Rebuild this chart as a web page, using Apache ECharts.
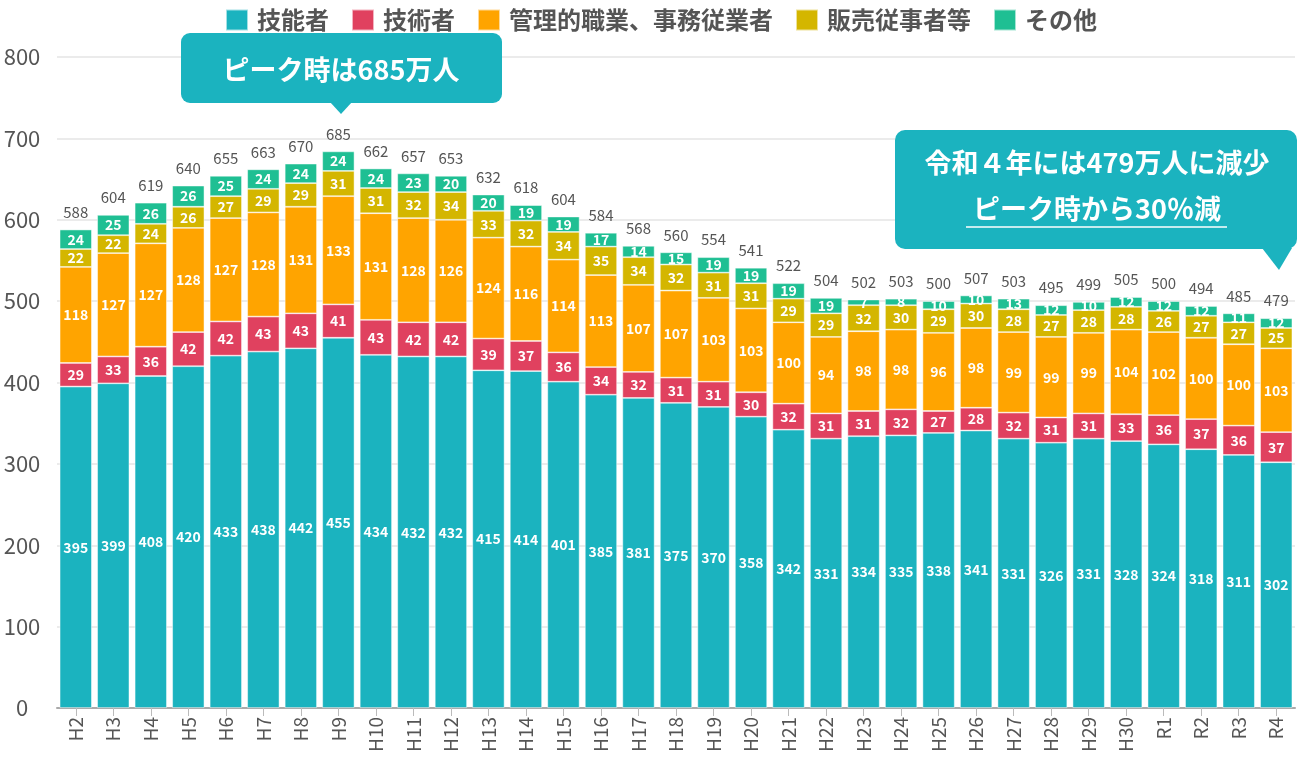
<!DOCTYPE html>
<html>
<head>
<meta charset="utf-8">
<script src="https://cdn.jsdelivr.net/npm/echarts@6/dist/echarts.min.js"></script>
<style>
html,body{margin:0;padding:0;background:#fff;}
#c{width:1301px;height:763px;}
</style>
</head>
<body>
<div id="c"></div>
<script>
const categories = ['H2','H3','H4','H5','H6','H7','H8','H9','H10','H11','H12','H13','H14','H15','H16','H17','H18','H19','H20','H21','H22','H23','H24','H25','H26','H27','H28','H29','H30','R1','R2','R3','R4'];
const ginosha = [395,399,408,420,433,438,442,455,434,432,432,415,414,401,385,381,375,370,358,342,331,334,335,338,341,331,326,331,328,324,318,311,302];
const gijutsusha = [29,33,36,42,42,43,43,41,43,42,42,39,37,36,34,32,31,31,30,32,31,31,32,27,28,32,31,31,33,36,37,36,37];
const kanri = [118,127,127,128,127,128,131,133,131,128,126,124,116,114,113,107,107,103,103,100,94,98,98,96,98,99,99,99,104,102,100,100,103];
const hanbai = [22,22,24,26,27,29,29,31,31,32,34,33,32,34,35,34,32,31,31,29,29,32,30,29,30,28,27,28,28,26,27,27,25];
const sonota = [24,25,26,26,25,24,24,24,24,23,20,20,19,19,17,14,15,19,19,19,19,7,8,10,10,13,12,10,12,12,12,11,12];
const totals = [588,604,619,640,655,663,670,685,662,657,653,632,618,604,584,568,560,554,541,522,504,502,503,500,507,503,495,499,505,500,494,485,479];
const seriesNames = ['技能者','技術者','管理的職業、事務従業者','販売従事者等','その他'];
const colors = ['#1bb3bf','#e0415f','#ffa400','#d4b600','#1fbf93'];
const yTicks = [0,100,200,300,400,500,600,700,800];

const FONT = '"Noto Sans CJK JP", "Noto Sans", sans-serif';
const chart = echarts.init(document.getElementById('c'));
const dataSets = [ginosha, gijutsusha, kanri, hanbai, sonota];
const series = dataSets.map((d, i) => ({
  name: seriesNames[i],
  type: 'bar',
  stack: 'total',
  barWidth: '86%',
  data: d,
  itemStyle: { color: colors[i], borderColor: 'rgba(255,255,255,0.6)', borderWidth: 0.8 },
  label: {
    show: true, position: 'inside', color: '#fff', fontSize: 14, fontWeight: 'bold',
    fontFamily: FONT
  }
}));
series.push({
  name: '合計',
  type: 'bar',
  stack: 'total',
  barWidth: '86%',
  data: totals.map(() => 0),
  itemStyle: { color: 'transparent' },
  label: {
    show: true, position: 'top', distance: 10, color: '#555', fontSize: 15,
    fontFamily: FONT,
    formatter: p => totals[p.dataIndex]
  },
  silent: true
});

const option = {
  animation: false,
  color: colors,
  legend: {
    data: seriesNames,
    top: 3,
    left: 220,
    itemWidth: 22,
    itemHeight: 21,
    itemGap: 22,
    icon: 'rect',
    textStyle: { color: '#555', fontSize: 24, fontWeight: 'bold', fontFamily: FONT, padding: [0, 0, 0, 4] }
  },
  grid: { left: 57, right: 6, top: 57, bottom: 55 },
  xAxis: {
    type: 'category',
    data: categories,
    axisLine: { lineStyle: { color: '#aaa', width: 2 } },
    axisTick: { show: true, alignWithLabel: true, length: 8, lineStyle: { color: '#bbb' } },
    axisLabel: { rotate: 90, color: '#555', fontSize: 19, fontFamily: FONT, margin: 9, interval: 0 }
  },
  yAxis: {
    type: 'value',
    min: yTicks[0],
    max: yTicks[yTicks.length - 1],
    interval: 100,
    axisLine: { show: false },
    axisTick: { show: false },
    splitLine: { lineStyle: { color: '#e4e4e4', width: 1.5 } },
    axisLabel: { color: '#555', fontSize: 22, fontFamily: FONT, align: 'center', margin: 35 }
  },
  series: series,
  graphic: [
    { type: 'rect', shape: { x: 181, y: 33, width: 321, height: 70, r: 9 }, style: { fill: '#1bb3bf' }, z: 100 },
    { type: 'polygon', shape: { points: [[330, 102], [352, 102], [341, 114]] }, style: { fill: '#1bb3bf' }, z: 100 },
    { type: 'text', x: 341, y: 70, style: { text: 'ピーク時は685万人', fill: '#fff', font: 'bold 27px ' + FONT, align: 'center', verticalAlign: 'middle' }, z: 101 },
    { type: 'rect', shape: { x: 895, y: 130, width: 402, height: 119, r: 10 }, style: { fill: '#1bb3bf' }, z: 100 },
    { type: 'polygon', shape: { points: [[1262, 248], [1292, 248], [1279, 270]] }, style: { fill: '#1bb3bf' }, z: 100 },
    { type: 'text', x: 1097, y: 163, style: { text: '令和４年には479万人に減少', fill: '#fff', font: 'bold 27px ' + FONT, align: 'center', verticalAlign: 'middle' }, z: 101 },
    { type: 'text', x: 1097, y: 209, style: { text: 'ピーク時から30％減', fill: '#fff', font: 'bold 27px ' + FONT, align: 'center', verticalAlign: 'middle' }, z: 101 },
    { type: 'line', shape: { x1: 966, y1: 227, x2: 1227, y2: 227 }, style: { stroke: '#fff', lineWidth: 1.5 }, z: 101 }
  ]
};
chart.setOption(option);
</script>
</body>
</html>
